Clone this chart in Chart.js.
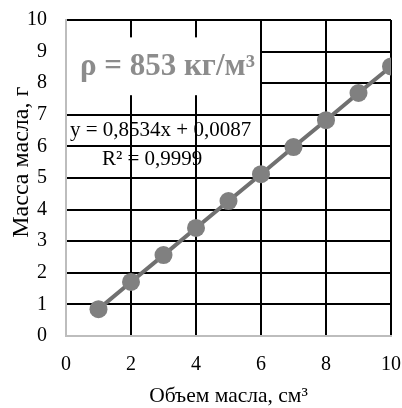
<!DOCTYPE html>
<html>
<head>
<meta charset="utf-8">
<script src="https://cdn.jsdelivr.net/npm/chart.js@4"></script>
<style>
  html, body { margin: 0; padding: 0; background: #fff; }
  #wrap { width: 402px; height: 408px; }
</style>
</head>
<body>
<div id="wrap"><canvas id="c" width="402" height="408"></canvas></div>
<script>
// Oil volume (cm³) and measured oil mass (g)
const volume = [1, 2, 3, 4, 5, 6, 7, 8, 9, 10];
const mass = [0.85, 1.71, 2.56, 3.42, 4.27, 5.12, 5.98, 6.83, 7.69, 8.53];
const xTicks = [0, 2, 4, 6, 8, 10];
const yTicks = [0, 1, 2, 3, 4, 5, 6, 7, 8, 9, 10];
const densityLabel = 'ρ = 853 кг/м³';
const trendLabel = 'y = 0,8534x + 0,0087';
const r2Label = 'R² = 0,9999';
const xTitle = 'Объем масла, см³';
const yTitle = 'Масса масла, г';

const serif = '"Liberation Serif", "Times New Roman", serif';

// Density box over the upper-left part of the grid, plus trendline equation
const notes = {
  id: 'notes',
  beforeDatasetsDraw(chart) {
    const { ctx, scales: { x, y } } = chart;
    ctx.save();
    const l = x.getPixelForValue(0) + 1;
    const r = x.getPixelForValue(6) - 1;
    const t = y.getPixelForValue(9.45);
    const b = y.getPixelForValue(7.62);
    ctx.fillStyle = '#ffffff';
    ctx.fillRect(l, t, r - l, b - t);
    ctx.fillStyle = '#8c8c8c';
    ctx.font = 'bold 31px ' + serif;
    ctx.textAlign = 'left';
    ctx.textBaseline = 'middle';
    ctx.fillText(densityLabel, l + 13, (t + b) / 2 + 1);

    ctx.fillStyle = '#000000';
    ctx.font = '21px ' + serif;
    ctx.textBaseline = 'middle';
    ctx.textAlign = 'left';
    ctx.fillText(trendLabel, l + 3, y.getPixelForValue(6.5));
    ctx.textAlign = 'center';
    ctx.fillText(r2Label, x.getPixelForValue(2.65), y.getPixelForValue(5.6));
    ctx.restore();
  },
  // vertical axis title, set slightly above the middle of the axis
  afterDraw(chart) {
    const { ctx, scales: { y } } = chart;
    ctx.save();
    ctx.translate(28, y.getPixelForValue(5.5));
    ctx.rotate(-Math.PI / 2);
    ctx.fillStyle = '#000000';
    ctx.font = '24px ' + serif;
    ctx.textAlign = 'center';
    ctx.textBaseline = 'alphabetic';
    ctx.fillText(yTitle, 0, 0);
    ctx.restore();
  }
};

new Chart(document.getElementById('c'), {
  type: 'line',
  data: {
    labels: volume,
    datasets: [{
      data: volume.map((v, i) => ({ x: v, y: mass[i] })),
      borderColor: '#707070',
      borderWidth: 4,
      pointRadius: 9,
      pointHoverRadius: 9,
      pointBackgroundColor: '#808080',
      pointBorderColor: '#808080',
      pointBorderWidth: 0,
      tension: 0
    }]
  },
  options: {
    responsive: false,
    animation: false,
    events: [],
    layout: { padding: { top: 20, right: 11, left: 0, bottom: 0 } },
    plugins: { legend: { display: false }, tooltip: { enabled: false } },
    scales: {
      x: {
        type: 'linear',
        min: 0, max: 10,
        afterBuildTicks: s => { s.ticks = xTicks.map(v => ({ value: v })); },
        afterFit: s => { s.height = 72; s.paddingLeft = 0; s.paddingRight = 0; },
        grid: { color: '#000000', lineWidth: 2, drawTicks: false },
        border: { display: true, color: '#bdbdbd', width: 2 },
        ticks: { color: '#000', font: { family: serif, size: 20 }, padding: 17, maxRotation: 0 },
        title: { display: true, text: xTitle, color: '#000', font: { family: serif, size: 21.5 }, padding: { top: 0, bottom: -1 } }
      },
      y: {
        min: 0, max: 10,
        afterBuildTicks: s => { s.ticks = yTicks.map(v => ({ value: v })); },
        afterFit: s => { s.width = 66; s.paddingTop = 0; s.paddingBottom = 0; },
        grid: { color: '#000000', lineWidth: 2, drawTicks: false },
        border: { display: true, color: '#bdbdbd', width: 2 },
        ticks: { color: '#000', font: { family: serif, size: 20 }, padding: 19 },
        title: { display: false }
      }
    }
  },
  plugins: [notes]
});
</script>
</body>
</html>
